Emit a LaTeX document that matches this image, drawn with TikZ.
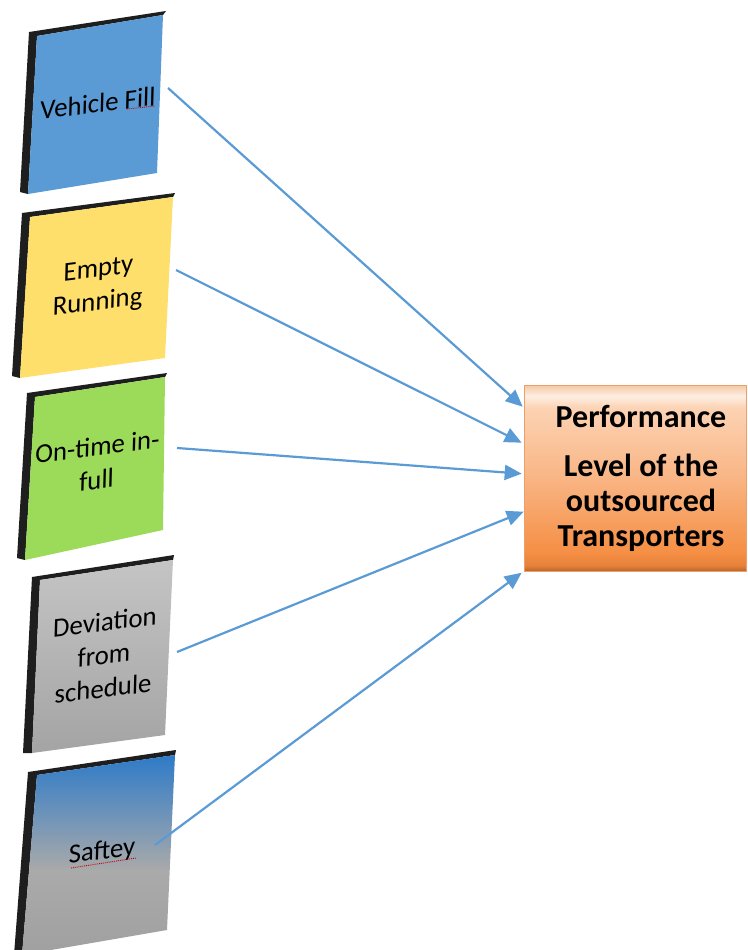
\documentclass[tikz,border=0pt]{standalone}
\usepackage{fontspec}
\setmainfont{Carlito}
\usetikzlibrary{arrows.meta,calc}

\definecolor{slabdark}{HTML}{1E1E1E}
\definecolor{cardblue}{HTML}{5B9BD5}
\definecolor{cardyellow}{HTML}{FFDF6B}
\definecolor{cardgreen}{HTML}{9CDB5A}
\definecolor{graytop}{HTML}{C4C4C4}
\definecolor{graybot}{HTML}{A4A4A4}
\definecolor{arrowblue}{HTML}{5B9BD5}
\definecolor{sgray}{HTML}{A0A0A0}
\definecolor{sgraymid}{HTML}{AAAAAA}
\definecolor{sblue}{HTML}{2E7BC8}
\definecolor{obot}{HTML}{B8652A}
\definecolor{obot2}{HTML}{E8823A}
\definecolor{omid1}{HTML}{F58F45}
\definecolor{omid2}{HTML}{F9B584}
\definecolor{otop1}{HTML}{FCD3B4}
\definecolor{otop2}{HTML}{FEEFE3}
\definecolor{otop3}{HTML}{F4C8A4}
\definecolor{oborder}{HTML}{E9A06B}

% blue fading into grey, top to bottom
\pgfdeclareverticalshading{safteyshade}{100bp}{%
  color(0bp)=(sgray); color(25bp)=(sgray); color(46bp)=(sgraymid);
  color(75bp)=(sblue); color(100bp)=(sblue)}
% bevelled orange box
\pgfdeclareverticalshading{orangebox}{100bp}{%
  color(0bp)=(obot); color(25bp)=(obot); color(26.5bp)=(obot2);
  color(30bp)=(omid1); color(50bp)=(omid2); color(69bp)=(otop1);
  color(72bp)=(otop2); color(75bp)=(otop3); color(100bp)=(otop3)}

\tikzset{
  slab/.style={fill=slabdark},
  cardtext/.style={font=\fontsize{27}{33}\selectfont, rotate=7, xslant=0.15,
    align=center, inner sep=0pt, text=black},
  perfbox/.style={shading=orangebox, draw=oborder, line width=0.6pt,
    minimum width=222pt, minimum height=186pt, inner sep=0pt},
  perftext/.style={font=\fontsize{32}{35}\selectfont\bfseries, align=center,
    inner sep=0pt, text=black},
  conn/.style={draw=arrowblue, line width=2.2pt,
    -{Triangle[length=17pt 0 0,width=15pt 0 0]}},
  spell/.style={draw=red!80!black, densely dotted, line width=0.9pt}
}

\begin{document}
\begin{tikzpicture}[x=1pt,y=-1pt]
\useasboundingbox (0,0) rectangle (747,950);
\clip (0,0) rectangle (747,950);

% card 1: Vehicle Fill
\fill[slab] (29,32) -- (166,11) -- (163,15) -- (37,36) -- (28,194) -- (20,192) -- cycle;
\fill[cardblue] (37,36) -- (163,15) -- (157,173) -- (28,194) -- cycle;
\node[cardtext] (vf) at (98,103) {Vehicle Fill};
\draw[spell] (127,109) -- (155,106);

% card 2: Empty Running
\fill[slab] (22,213) -- (175,193) -- (173,197) -- (30,217) -- (20,378) -- (12,376) -- cycle;
\fill[cardyellow] (30,217) -- (173,197) -- (165,358) -- (20,378) -- cycle;
\node[cardtext] (er) at (98,287) {Empty\\Running};

% card 3: On-time in-full
\fill[slab] (27,393) -- (167,373) -- (165,377) -- (35,397) -- (25,560) -- (17,558) -- cycle;
\fill[cardgreen] (35,397) -- (165,377) -- (163,530) -- (25,560) -- cycle;
\node[cardtext] (ot) at (97,463) {On-time in-\\full};

% card 4: Deviation from schedule
\fill[slab] (32,577) -- (174,555) -- (173,560) -- (40,580) -- (32,753) -- (23,753) -- cycle;
\shade[top color=graytop, bottom color=graybot] (40,580) -- (173,560) -- (165,735) -- (32,753) -- cycle;
\node[cardtext] (ds) at (104,655) {Deviation\\from\\schedule};

% card 5: Saftey
\fill[slab] (28,772) -- (176,750) -- (175,755) -- (37,775) -- (22,955) -- (14,955) -- cycle;
\shade[shading=safteyshade] (37,775) -- (175,755) -- (167,930) -- (22,955) -- cycle;
\node[cardtext] (sf) at (102,852) {Saftey};
\draw[spell] (71,868) -- (136,858);

% target box
\node[perfbox] (perf) at (635,478) {};
\node[perftext] (pt) at (641,478) {Performance\\[14pt]Level of the\\outsourced\\Transporters};

% arrow start points
\coordinate (s1) at (168,88);
\coordinate (s2) at (176,270);
\coordinate (s3) at (177,448);
\coordinate (s4) at (177,652);
\coordinate (s5) at (155,845);
% arrow tips along the left side of the box
\coordinate (e1) at ($(perf.north west)+(-1,22)$);
\coordinate (e2) at ($(perf.north west)+(-2,58)$);
\coordinate (e3) at ($(perf.north west)+(-2,89)$);
\coordinate (e4) at ($(perf.north west)+(0,127)$);
\coordinate (e5) at ($(perf.north west)+(-2,188)$);

\draw[conn] (s1) -- (e1);
\draw[conn] (s2) -- (e2);
\draw[conn] (s3) -- (e3);
\draw[conn] (s4) -- (e4);
\draw[conn] (s5) -- (e5);
\end{tikzpicture}
\end{document}
